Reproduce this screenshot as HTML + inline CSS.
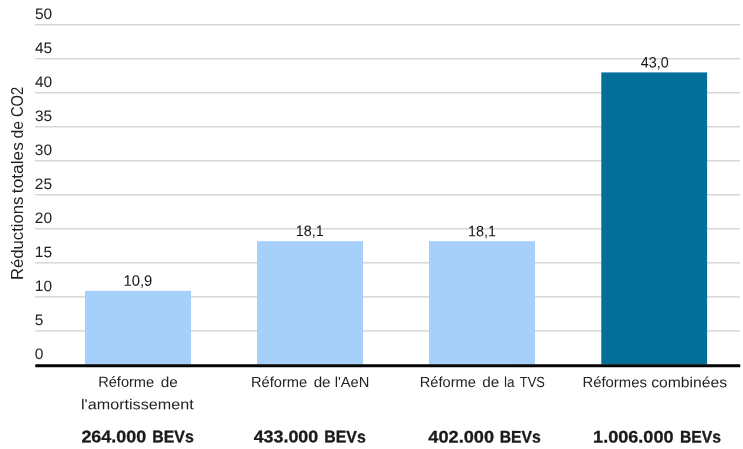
<!DOCTYPE html>
<html lang="fr"><head><meta charset="utf-8"><title>Réductions totales de CO2</title>
<style>
html,body{margin:0;padding:0;background:#fff;}
body{width:743px;height:449px;overflow:hidden;}
svg{display:block;font-family:"Liberation Sans",sans-serif;fill:#222;}
.b{font-weight:bold;fill:#1a1a1a;stroke:#1a1a1a;stroke-width:0.3px;}
</style></head><body>
<svg width="743" height="449" viewBox="0 0 743 449">
<rect width="743" height="449" fill="#fff"/>
<rect x="35.2" y="330.28" width="704.8" height="1.2" fill="#cdcdcd"/>
<rect x="35.2" y="296.27" width="704.8" height="1.2" fill="#cdcdcd"/>
<rect x="35.2" y="262.25" width="704.8" height="1.2" fill="#cdcdcd"/>
<rect x="35.2" y="228.24" width="704.8" height="1.2" fill="#cdcdcd"/>
<rect x="35.2" y="194.22" width="704.8" height="1.2" fill="#cdcdcd"/>
<rect x="35.2" y="160.21" width="704.8" height="1.2" fill="#cdcdcd"/>
<rect x="35.2" y="126.19" width="704.8" height="1.2" fill="#cdcdcd"/>
<rect x="35.2" y="92.18" width="704.8" height="1.2" fill="#cdcdcd"/>
<rect x="35.2" y="58.16" width="704.8" height="1.2" fill="#cdcdcd"/>
<rect x="35.2" y="24.15" width="704.8" height="1.2" fill="#cdcdcd"/>
<rect x="85.0" y="290.90" width="106.0" height="73.60" fill="#a6cff9"/>
<rect x="257.0" y="241.15" width="106.0" height="123.35" fill="#a6cff9"/>
<rect x="429.0" y="241.15" width="106.0" height="123.35" fill="#a6cff9"/>
<rect x="601.3" y="72.40" width="105.8" height="292.10" fill="#036f99"/>
<rect x="35.2" y="364.3" width="705.1" height="3" rx="0.8" fill="#050505"/>
<g transform="rotate(0.03 371 224)">
<g font-size="15.2">
<text x="34.84" y="359.3" textLength="8.62" lengthAdjust="spacingAndGlyphs">0</text>
<text x="34.84" y="325.3" textLength="8.62" lengthAdjust="spacingAndGlyphs">5</text>
<text x="34.84" y="291.3" textLength="17.23" lengthAdjust="spacingAndGlyphs">10</text>
<text x="34.84" y="257.3" textLength="17.23" lengthAdjust="spacingAndGlyphs">15</text>
<text x="34.84" y="223.2" textLength="17.23" lengthAdjust="spacingAndGlyphs">20</text>
<text x="34.84" y="189.2" textLength="17.23" lengthAdjust="spacingAndGlyphs">25</text>
<text x="34.84" y="155.2" textLength="17.23" lengthAdjust="spacingAndGlyphs">30</text>
<text x="34.84" y="121.2" textLength="17.23" lengthAdjust="spacingAndGlyphs">35</text>
<text x="34.84" y="87.2" textLength="17.23" lengthAdjust="spacingAndGlyphs">40</text>
<text x="34.84" y="53.2" textLength="17.23" lengthAdjust="spacingAndGlyphs">45</text>
<text x="34.84" y="19.1" textLength="17.23" lengthAdjust="spacingAndGlyphs">50</text>
</g>
<text fill="#151515" x="123.53" y="285.8" font-size="15.1" textLength="28.75" lengthAdjust="spacingAndGlyphs">10,9</text>
<text fill="#151515" x="295.81" y="236.1" font-size="15.1" textLength="28.00" lengthAdjust="spacingAndGlyphs">18,1</text>
<text fill="#151515" x="467.96" y="236.1" font-size="15.1" textLength="28.00" lengthAdjust="spacingAndGlyphs">18,1</text>
<text fill="#151515" x="640.76" y="67.3" font-size="15.1" textLength="27.84" lengthAdjust="spacingAndGlyphs">43,0</text>
<text y="387.0" font-size="14.6"><tspan x="98.25" textLength="55.97" lengthAdjust="spacingAndGlyphs">Réforme</tspan> <tspan x="160.72" textLength="17.05" lengthAdjust="spacingAndGlyphs">de</tspan></text>
<text y="409.3" font-size="14.6"><tspan x="81.14" textLength="112.64" lengthAdjust="spacingAndGlyphs">l'amortissement</tspan></text>
<text y="387.0" font-size="14.6"><tspan x="251.04" textLength="56.28" lengthAdjust="spacingAndGlyphs">Réforme</tspan> <tspan x="313.73" textLength="16.94" lengthAdjust="spacingAndGlyphs">de</tspan> <tspan x="334.74" textLength="34.64" lengthAdjust="spacingAndGlyphs">l'AeN</tspan></text>
<text y="387.0" font-size="14.6"><tspan x="419.85" textLength="56.18" lengthAdjust="spacingAndGlyphs">Réforme</tspan> <tspan x="482.32" textLength="17.05" lengthAdjust="spacingAndGlyphs">de</tspan> <tspan x="504.12" textLength="10.58" lengthAdjust="spacingAndGlyphs">la</tspan> <tspan x="519.93" textLength="25.04" lengthAdjust="spacingAndGlyphs">TVS</tspan></text>
<text y="387.0" font-size="14.6"><tspan x="582.58" textLength="64.35" lengthAdjust="spacingAndGlyphs">Réformes</tspan> <tspan x="651.24" textLength="75.88" lengthAdjust="spacingAndGlyphs">combinées</tspan></text>
<text class="b" y="442.4" font-size="16.7"><tspan x="81.51" textLength="64.81" lengthAdjust="spacingAndGlyphs">264.000</tspan> <tspan x="152.40" textLength="41.47" lengthAdjust="spacingAndGlyphs">BEVs</tspan></text>
<text class="b" y="442.4" font-size="16.7"><tspan x="253.78" textLength="64.54" lengthAdjust="spacingAndGlyphs">433.000</tspan> <tspan x="324.40" textLength="41.47" lengthAdjust="spacingAndGlyphs">BEVs</tspan></text>
<text class="b" y="442.4" font-size="16.7"><tspan x="428.48" textLength="65.65" lengthAdjust="spacingAndGlyphs">402.000</tspan> <tspan x="499.81" textLength="41.05" lengthAdjust="spacingAndGlyphs">BEVs</tspan></text>
<text class="b" y="442.4" font-size="16.7"><tspan x="593.22" textLength="80.39" lengthAdjust="spacingAndGlyphs">1.006.000</tspan> <tspan x="680.01" textLength="41.05" lengthAdjust="spacingAndGlyphs">BEVs</tspan></text>
</g>
<text transform="translate(23.0,278.8) rotate(-90)" y="0" font-size="17.2"><tspan x="-1.26" textLength="83.48" lengthAdjust="spacingAndGlyphs">Réductions</tspan> <tspan x="85.65" textLength="51.10" lengthAdjust="spacingAndGlyphs">totales</tspan> <tspan x="140.31" textLength="17.59" lengthAdjust="spacingAndGlyphs">de</tspan> <tspan x="161.74" textLength="30.39" lengthAdjust="spacingAndGlyphs">CO2</tspan></text>
</svg>
</body></html>
